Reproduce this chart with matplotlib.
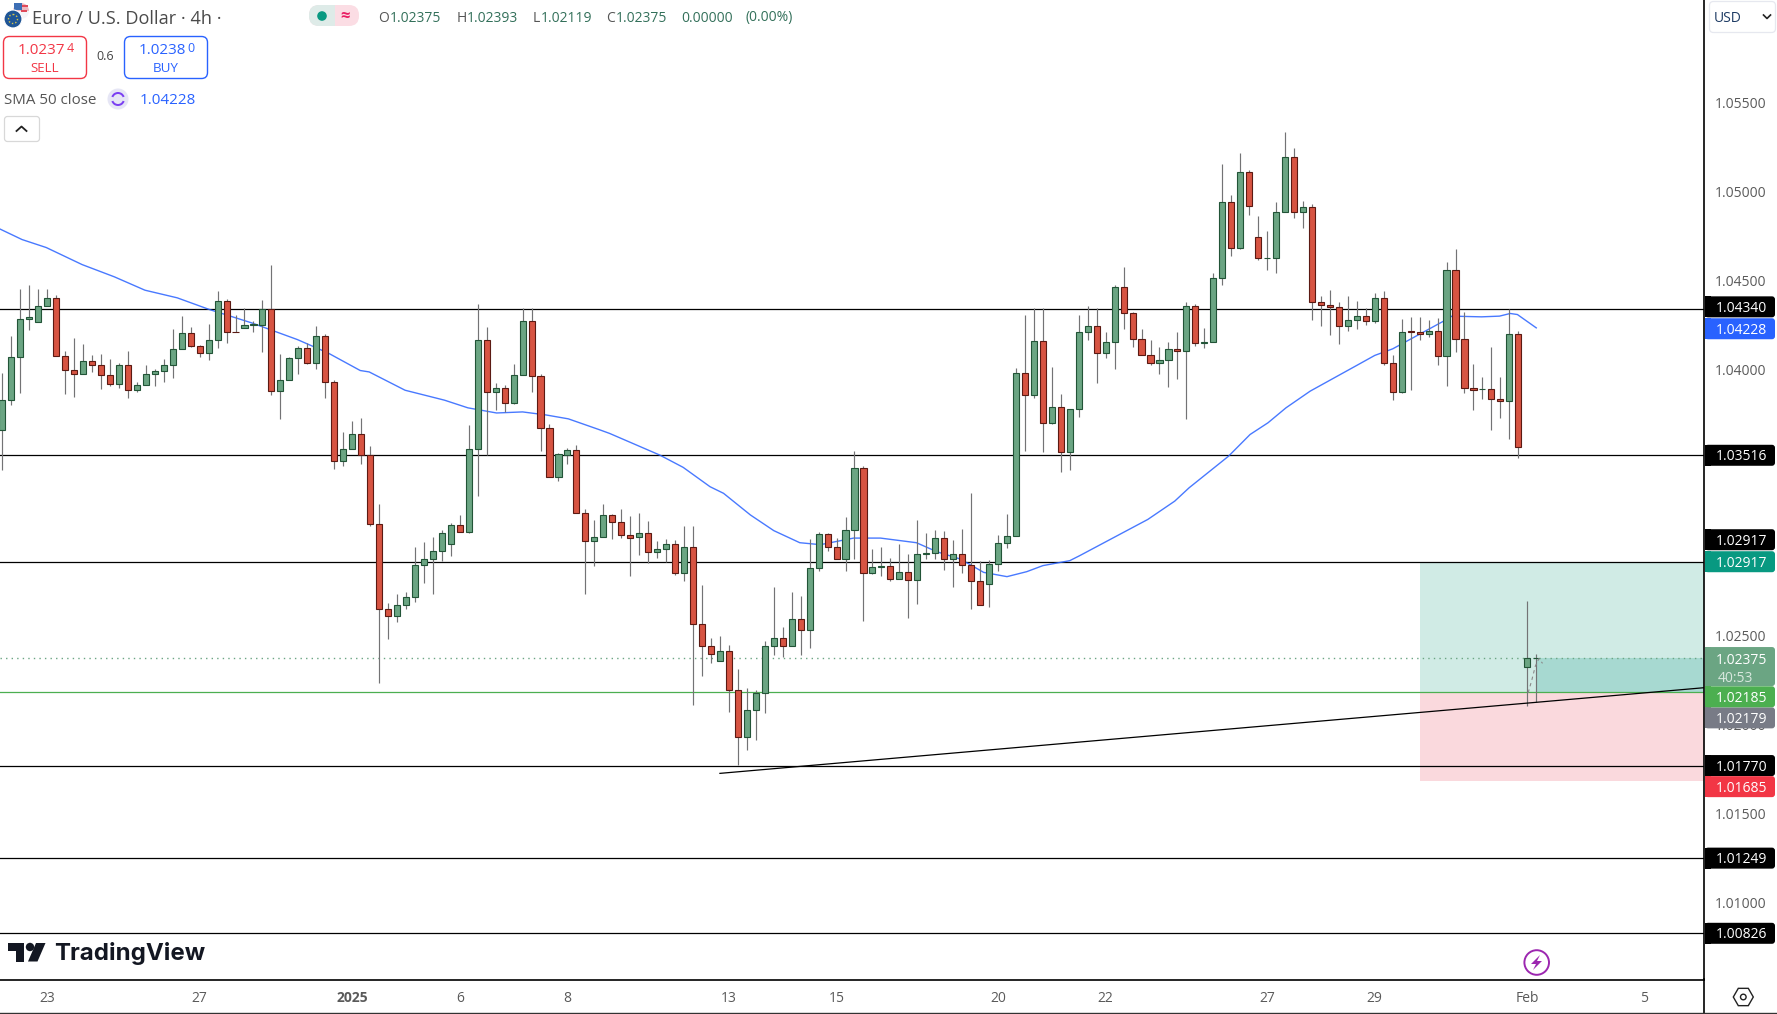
import matplotlib
matplotlib.use("Agg")
import matplotlib.pyplot as plt
from matplotlib.patches import FancyBboxPatch, Circle, Polygon, Rectangle, Wedge, RegularPolygon
import numpy as np

plt.rcParams['font.family'] = ['Open Sans', 'DejaVu Sans']

# prices in 1e-5 units
opens = [
    103659, 103828, 104070, 104284, 104267, 104357, 104402, 104075, 103996, 103974,
    104047, 104025, 103968, 103918, 104025, 103884, 103912, 103974, 103991, 104025,
    104115, 104205, 104132, 104092, 104165, 104385, 104210, 104233, 104248, 104250,
    104340, 103878, 103940, 104064, 104120, 104036, 104188, 103929, 103484, 103552,
    103636, 103518, 103130, 102651, 102612, 102674, 102719, 102899, 102933, 102978,
    103017, 103124, 103085, 103552, 104165, 103873, 103895, 103811, 103968, 104272,
    103963, 103670, 103394, 103520, 103546, 103192, 103034, 103054, 103178, 103139,
    103065, 103054, 103077, 102970, 102987, 103015, 102851, 102998, 102564, 102441,
    102356, 102412, 102193, 101929, 102080, 102176, 102441, 102486, 102441, 102593,
    102531, 102880, 103071, 102998, 102930, 103093, 103442, 102851, 102885, 102891,
    102818, 102857, 102812, 102962, 102964, 103048, 102930, 102958, 102897, 102806,
    102790, 102902, 103020, 103060, 103980, 103855, 104160, 103699, 103789, 103536,
    103778, 104211, 104245, 104093, 104155, 104464, 104318, 104172, 104082, 104037,
    104053, 104115, 104104, 104357, 104149, 104155, 104515, 104943, 104684, 105111,
    104746, 104625, 104627, 104886, 105196, 104886, 104914, 104378, 104363, 104350,
    104245, 104279, 104301, 104271, 104402, 104037, 103871, 104213, 104211, 104198,
    104217, 104076, 104560, 104172, 103896, 103888, 103890, 103834, 103821, 104200,
    102323, 102375]
closes = [
    103828, 104070, 104284, 104295, 104357, 104402, 104075, 103996, 103974, 104047,
    104025, 103968, 103918, 104025, 103884, 103912, 103974, 103991, 104025, 104115,
    104205, 104132, 104092, 104165, 104385, 104210, 104208, 104250, 104252, 104340,
    103878, 103940, 104064, 104120, 104036, 104188, 103929, 103484, 103552, 103636,
    103518, 103130, 102651, 102612, 102674, 102719, 102899, 102933, 102978, 103079,
    103124, 103085, 103552, 104165, 103873, 103895, 103811, 103968, 104272, 103963,
    103670, 103394, 103524, 103546, 103192, 103034, 103057, 103178, 103139, 103065,
    103052, 103077, 102970, 102987, 103015, 102851, 102998, 102564, 102441, 102396,
    102412, 102193, 101929, 102080, 102176, 102441, 102486, 102441, 102593, 102531,
    102880, 103071, 102998, 102930, 103093, 103442, 102851, 102885, 102891, 102818,
    102857, 102812, 102958, 102964, 103048, 102930, 102958, 102897, 102806, 102671,
    102902, 103020, 103060, 103980, 103855, 104160, 103699, 103789, 103536, 103778,
    104211, 104245, 104093, 104155, 104464, 104318, 104172, 104082, 104037, 104053,
    104115, 104104, 104357, 104149, 104155, 104515, 104943, 104684, 105111, 104920,
    104627, 104627, 104886, 105196, 104886, 104914, 104378, 104363, 104350, 104245,
    104279, 104301, 104271, 104402, 104037, 103873, 104211, 104211, 104198, 104217,
    104076, 104560, 104172, 103896, 103885, 103890, 103834, 103821, 104200, 103564,
    102373, 102375]
highs = [
    103980, 104188, 104449, 104477, 104454, 104454, 104420, 104100, 104178, 104145,
    104083, 104088, 104055, 104038, 104100, 103931, 104025, 104004, 104060, 104229,
    104302, 104240, 104137, 104257, 104443, 104396, 104308, 104345, 104274, 104392,
    104584, 104088, 104070, 104132, 104148, 104246, 104199, 103940, 103649, 103711,
    103723, 103571, 103239, 102687, 102738, 102749, 103002, 103030, 103058, 103098,
    103135, 103182, 103689, 104370, 104240, 103925, 103914, 104032, 104342, 104345,
    103974, 103694, 103529, 103559, 103576, 103216, 103149, 103242, 103185, 103214,
    103174, 103191, 103146, 103033, 103045, 103039, 103118, 103118, 102786, 102488,
    102499, 102448, 102313, 102206, 102195, 102471, 102775, 102549, 102746, 102724,
    103045, 103084, 103077, 103050, 103169, 103540, 103456, 102988, 103000, 102938,
    103017, 102960, 103152, 103078, 103095, 103090, 103039, 103101, 103304, 102919,
    102927, 103067, 103185, 104005, 104303, 104346, 104346, 104010, 103862, 103778,
    104303, 104354, 104342, 104211, 104477, 104573, 104325, 104228, 104162, 104127,
    104151, 104207, 104380, 104370, 104235, 104539, 105153, 104978, 105215, 105119,
    104860, 104776, 104939, 105333, 105243, 104945, 104928, 104415, 104444, 104376,
    104415, 104382, 104344, 104427, 104438, 104083, 104284, 104292, 104292, 104280,
    104290, 104601, 104674, 104325, 104027, 103956, 104128, 103954, 104340, 104218,
    102696, 102396]
lows = [
    103432, 103798, 103865, 104220, 104267, 104357, 104075, 103860, 103843, 103974,
    103983, 103888, 103905, 103893, 103837, 103871, 103912, 103905, 103927, 103950,
    104115, 104124, 104068, 104051, 104118, 104147, 104208, 104233, 104208, 104096,
    103854, 103719, 103940, 103972, 104028, 104000, 103837, 103437, 103454, 103552,
    103466, 103117, 102233, 102481, 102576, 102649, 102689, 102796, 102734, 102922,
    102948, 103085, 103077, 103285, 103518, 103773, 103762, 103803, 103968, 103871,
    103539, 103394, 103370, 103466, 103192, 102734, 102892, 103054, 103047, 103052,
    102838, 102957, 102912, 102938, 102917, 102844, 102810, 102112, 102276, 102349,
    102356, 102073, 101771, 101859, 101915, 102067, 102392, 102382, 102441, 102394,
    102433, 102866, 102979, 102930, 102866, 102934, 102585, 102846, 102838, 102810,
    102818, 102602, 102681, 102934, 102934, 102872, 102776, 102855, 102653, 102671,
    102664, 102866, 102996, 103060, 103539, 103838, 103534, 103693, 103421, 103432,
    103731, 104164, 103922, 104063, 104001, 104226, 104125, 104082, 104023, 103973,
    103900, 103945, 103719, 104130, 104119, 104155, 104474, 104637, 104676, 104868,
    104614, 104558, 104541, 104886, 104851, 104794, 104280, 104243, 104192, 104142,
    104215, 104226, 104247, 104260, 104023, 103826, 103868, 103883, 104164, 104181,
    104022, 103905, 104097, 103866, 103770, 103834, 103658, 103725, 103607, 103500,
    102107, 102126]

# SMA 50 read at a handful of bars, line between them
sma_bars = [-0.25, 2.2, 4.9, 8.9, 12.5, 15.9, 19.5, 23.1, 27.8, 32.9, 36.3, 39.9, 40.9, 44.9, 49.3, 51.9, 55.1,
            58.0, 60.6, 63.1, 66.5, 67.7, 73.3, 75.9, 78.9, 80.4, 83.4, 86.0, 88.9, 91.2, 94.9, 97.9, 101.9,
            104.2, 106.8, 109.4, 112.0, 114.2, 116.0, 119.0, 120.1, 127.7, 130.7, 132.3, 136.7, 139.1, 141.1,
            143.1, 145.8, 151.0, 153.0, 155.0, 160.6, 161.6, 164.9, 166.9, 168.1, 168.9, 171.0]
sma_vals = [104789, 104730, 104685, 104589, 104520, 104445, 104402, 104336, 104261, 104167, 104092, 103993,
            103985, 103882, 103826, 103783, 103754, 103760, 103743, 103721, 103661, 103639, 103517, 103448,
            103339, 103302, 103180, 103092, 103024, 103013, 103050, 103050, 103024, 102973, 102932, 102857,
            102833, 102861, 102895, 102923, 102951, 103155, 103258, 103333, 103511, 103633, 103699, 103783,
            103877, 104022, 104078, 104115, 104269, 104299, 104295, 104299, 104314, 104308, 104233]

levels = [1.04340, 1.03516, 1.02917, 1.01770, 1.01249, 1.00826]
entry_price = 1.02185
last_price = 1.02375
target_price = 1.02917
stop_price = 1.01685
trend_bars = [80.0, 189.7]
trend_prices = [1.01726, 1.02208]
position_start = 158.0

# 1.03000 and 1.03500 sit under the level tags in the original, so they are left out
ytick_vals = [1.010, 1.015, 1.020, 1.025, 1.040, 1.045, 1.050, 1.055]
xtick_bars = [5, 22, 39, 51, 63, 81, 93, 111, 123, 141, 153, 170, 183]
xtick_labels = ['23', '27', '2025', '6', '8', '13', '15', '20', '22', '27', '29', 'Feb', '5']

# text, price, colour, shift in pixels from the price position
price_labels = [
    ('1.04340', 1.04340, '#000000', -2),
    ('1.04228', 1.04228, '#2962ff', 0),
    ('1.03516', 1.03516, '#000000', 0),
    ('1.02917', 1.02917, '#000000', -22),
    ('1.02917', 1.02917, '#089981', 0),
    ('1.02179', 1.02179, '#787b86', 25),
    ('1.02185', 1.02185, '#4caf50', 5),
    ('1.01770', 1.01770, '#000000', 0),
    ('1.01685', 1.01685, '#f23645', 6),
    ('1.01249', 1.01249, '#000000', 0),
    ('1.00826', 1.00826, '#000000', 0),
]

o = np.array(opens) / 1e5
c = np.array(closes) / 1e5
h = np.array(highs) / 1e5
l = np.array(lows) / 1e5
bars = np.arange(len(o))
up = c >= o

W, H = 1777, 1014
fig = plt.figure(figsize=(W / 100, H / 100), dpi=100, facecolor='white')
ax = fig.add_axes([0, (H - 979.5) / H, 1704 / W, 979.5 / H])
ax.set_xlim(-0.256, 189.7)
ax.set_ylim(1.00566, 1.06078)

ax.fill_between([position_start, 189.7], entry_price, target_price, color='#d0ebe5', lw=0, zorder=1)
ax.fill_between([position_start, 189.7], stop_price, entry_price, color='#fad9dd', lw=0, zorder=1)
ax.fill_between([171, 189.7], entry_price, last_price, color='#a7d9d1', lw=0, zorder=1.1)

ax.hlines(levels, -1, 190, color='black', lw=0.9, zorder=2)
ax.axhline(entry_price, color='#4caf50', lw=0.9, zorder=2)
ax.axhline(last_price, color='#6ba583', lw=1.0, ls=(0, (1, 3)), zorder=2)
ax.plot(sma_bars, np.array(sma_vals) / 1e5, color='#2962ff', lw=1.0, zorder=2.5, alpha=0.85)
ax.plot(trend_bars, trend_prices, color='black', lw=0.9, zorder=4)

ax.vlines(bars, l, h, color='#737375', lw=0.85, zorder=3)
body_low = np.minimum(o, c)
body_h = np.maximum(np.abs(c - o), 0.00002)
ax.bar(bars[:-1][up[:-1]], body_h[:-1][up[:-1]], bottom=body_low[:-1][up[:-1]], width=0.68,
       color='#6ba583', edgecolor='#225437', lw=0.8, zorder=3.5)
ax.bar(bars[:-1][~up[:-1]], body_h[:-1][~up[:-1]], bottom=body_low[:-1][~up[:-1]], width=0.68,
       color='#d75442', edgecolor='#5b1a13', lw=0.8, zorder=3.5)
ax.hlines(c[-1], bars[-1] - 0.35, bars[-1] + 0.35, color='#225437', lw=0.8, zorder=3.5)

# dashed curve the drawing leaves at the last bars
ax.plot([170.1, 170.5, 170.9, 171.3, 171.7], [1.02180, 1.02250, 1.02330, 1.02372, 1.02345],
        color='#8a8a8a', lw=0.8, ls=(0, (3, 3)), zorder=4)

for s in ['top', 'left']:
    ax.spines[s].set_visible(False)
ax.spines['right'].set_linewidth(1.2)
ax.spines['bottom'].set_linewidth(1.2)
ax.yaxis.tick_right()
ax.set_yticks(ytick_vals)
ax.set_yticklabels([f'{v:.5f}' for v in ytick_vals], color='#5a5a5a', fontsize=10)
ax.tick_params(axis='y', length=0, pad=8)
ax.set_xticks(xtick_bars)
ax.set_xticklabels(xtick_labels, color='#5a5a5a', fontsize=10)
ax.tick_params(axis='x', length=0, pad=8)
for t in ax.get_xticklabels():
    if t.get_text() == '2025':
        t.set_fontweight('bold')

# overlay in pixels for price tags and the TradingView furniture
ui = fig.add_axes([0, 0, 1, 1], facecolor='none')
ui.set_xlim(0, W)
ui.set_ylim(H, 0)
ui.axis('off')


def price_y(p):
    return H - ax.transData.transform((0, p))[1]


def tag(y, color, height=21):
    ui.add_patch(FancyBboxPatch((1705, y - height / 2), 70, height, boxstyle='round,pad=0,rounding_size=3',
                                fc=color, ec='none', zorder=5))
    ui.add_patch(Rectangle((1705, y - height / 2), 6, height, fc=color, ec='none', zorder=5))


for text, p, col, shift in price_labels:
    y = price_y(p) + shift
    tag(y, col)
    ui.text(1741.5, y + 1.5, text, color='white', fontsize=10, ha='center', va='center', zorder=6)

y_last = price_y(last_price)
tag(y_last + 8.5, '#6ba583', 39)
ui.text(1741.5, y_last + 2, '1.02375', color='white', fontsize=10, ha='center', va='center', zorder=6)
ui.text(1735, y_last + 20, '40:53', color='#d8e8de', fontsize=10, ha='center', va='center', zorder=6)

ui.plot([1704, 1704], [979, 1013], color='black', lw=1.2)
ui.plot([0, W], [1013, 1013], color='#333333', lw=1.0)

# header
ui.add_patch(Circle((21, 11), 8, fc='#f4f4f8', ec='none'))
ui.add_patch(Wedge((21, 11), 8, 180, 360, fc='#e04a5a', ec='none', alpha=0.35))
ui.add_patch(Rectangle((21, 5), 7, 2, fc='#e04a5a', ec='none'))
ui.add_patch(Rectangle((21, 10), 6, 2, fc='#e04a5a', ec='none'))
ui.add_patch(Rectangle((14, 3), 8, 7, fc='#3d6fb5', ec='none'))
ui.add_patch(Circle((13, 19), 9, fc='#1f5596', ec='white', lw=0.8))
ui.add_patch(Circle((13, 19), 4.5, fc='none', ec='#d8c84a', lw=1.0, ls=(0, (1, 1.5))))
ui.text(32, 19, 'Euro / U.S. Dollar · 4h ·', color='#4a4a4a', fontsize=13.1, ha='left', va='center')

ui.add_patch(FancyBboxPatch((309, 5), 50, 21, boxstyle='round,pad=0,rounding_size=10', fc='#fbdde4', ec='none'))
ui.add_patch(FancyBboxPatch((309, 5), 26, 21, boxstyle='round,pad=0,rounding_size=10', fc='#deebe8', ec='none'))
ui.add_patch(Rectangle((322, 5), 13, 21, fc='#deebe8', ec='none'))
ui.add_patch(Circle((322, 16), 4.8, fc='#089981', ec='none'))
ui.text(345, 15.5, '≈', color='#e91e63', fontsize=12, ha='center', va='center', fontweight='bold')

ohlc_col = '#33705a'
for x, s, col in [(378, 'O', '#555555'), (390, '1.02375', ohlc_col), (457, 'H', '#555555'), (467, '1.02393', ohlc_col),
                  (533, 'L', '#555555'), (541, '1.02119', ohlc_col), (606, 'C', '#555555'), (616, '1.02375', ohlc_col),
                  (681, '0.00000', ohlc_col), (745, '(0.00%)', ohlc_col)]:
    ui.text(x, 18, s, color=col, fontsize=10, ha='left', va='center')

ui.add_patch(FancyBboxPatch((3.5, 36.5), 83, 42, boxstyle='round,pad=0,rounding_size=6', fc='white', ec='#f23645', lw=1.0))
ui.text(18, 51, '1.0237', color='#f23645', fontsize=11, ha='left', va='center', fontweight='medium')
ui.text(66.5, 49, '4', color='#f23645', fontsize=9, ha='left', va='center')
ui.text(45, 68, 'SELL', color='#f23645', fontsize=9.6, ha='center', va='center')
ui.text(105, 57, '0.6', color='#444444', fontsize=9, ha='center', va='center')
ui.add_patch(FancyBboxPatch((124.5, 36.5), 83, 42, boxstyle='round,pad=0,rounding_size=6', fc='white', ec='#2962ff', lw=1.0))
ui.text(139, 51, '1.0238', color='#2962ff', fontsize=11, ha='left', va='center', fontweight='medium')
ui.text(187.5, 49, '0', color='#2962ff', fontsize=9, ha='left', va='center')
ui.text(166, 68, 'BUY', color='#2962ff', fontsize=9.6, ha='center', va='center')

ui.text(4, 100, 'SMA 50 close', color='#555555', fontsize=10.9, ha='left', va='center')
ui.add_patch(Circle((118, 99), 10.5, fc='#e6e6f5', ec='none'))
ui.add_patch(Wedge((118, 99), 7, 20, 160, width=2, fc='#7b3ff2', ec='none'))
ui.add_patch(Wedge((118, 99), 7, 200, 340, width=2, fc='#7b3ff2', ec='none'))
ui.text(140, 100, '1.04228', color='#2962ff', fontsize=11, ha='left', va='center')
ui.add_patch(FancyBboxPatch((4.5, 116.5), 35, 25, boxstyle='round,pad=0,rounding_size=3', fc='white', ec='#d8d8d8', lw=0.9))
ui.plot([16.5, 21.5, 26.5], [131, 126.5, 131], color='#222222', lw=1.3)

# currency box
ui.add_patch(FancyBboxPatch((1709.5, 1.5), 66, 31, boxstyle='round,pad=0,rounding_size=4', fc='white', ec='#e6e8ef', lw=0.9))
ui.text(1714, 18.5, 'USD', color='#1c3a63', fontsize=10, ha='left', va='center')
ui.plot([1763.5, 1767, 1770.5], [15, 18.5, 15], color='#222222', lw=1.2)

# TradingView logo
ui.add_patch(Polygon([(8, 943), (24, 943), (24, 961.5), (16, 961.5), (16, 951), (8, 951)], fc='#131722', ec='none'))
ui.add_patch(Circle((30, 947), 4.2, fc='#131722', ec='none'))
ui.add_patch(Polygon([(36, 943), (45.5, 943), (37.5, 961.5), (28, 961.5)], fc='#131722', ec='none'))
ui.text(54.5, 953.5, 'TradingView', color='#131722', fontsize=17.3, family='Inter', fontweight='bold',
        ha='left', va='center')

# bolt and settings icons
ui.add_patch(Circle((1536.7, 962.5), 12.3, fc='white', ec='#9c27b0', lw=1.4))
ui.add_patch(Polygon([(1540, 955), (1531, 964), (1536, 964), (1533, 970), (1542, 961), (1537, 961)],
                     fc='#9c27b0', ec='none'))
ui.add_patch(RegularPolygon((1743.3, 997), 6, radius=10, orientation=np.pi / 2,
                            fc='white', ec='#222222', lw=1.0))
ui.add_patch(Circle((1743.3, 997), 2.8, fc='white', ec='#222222', lw=1.0))

fig.savefig('out.png', dpi=100)
